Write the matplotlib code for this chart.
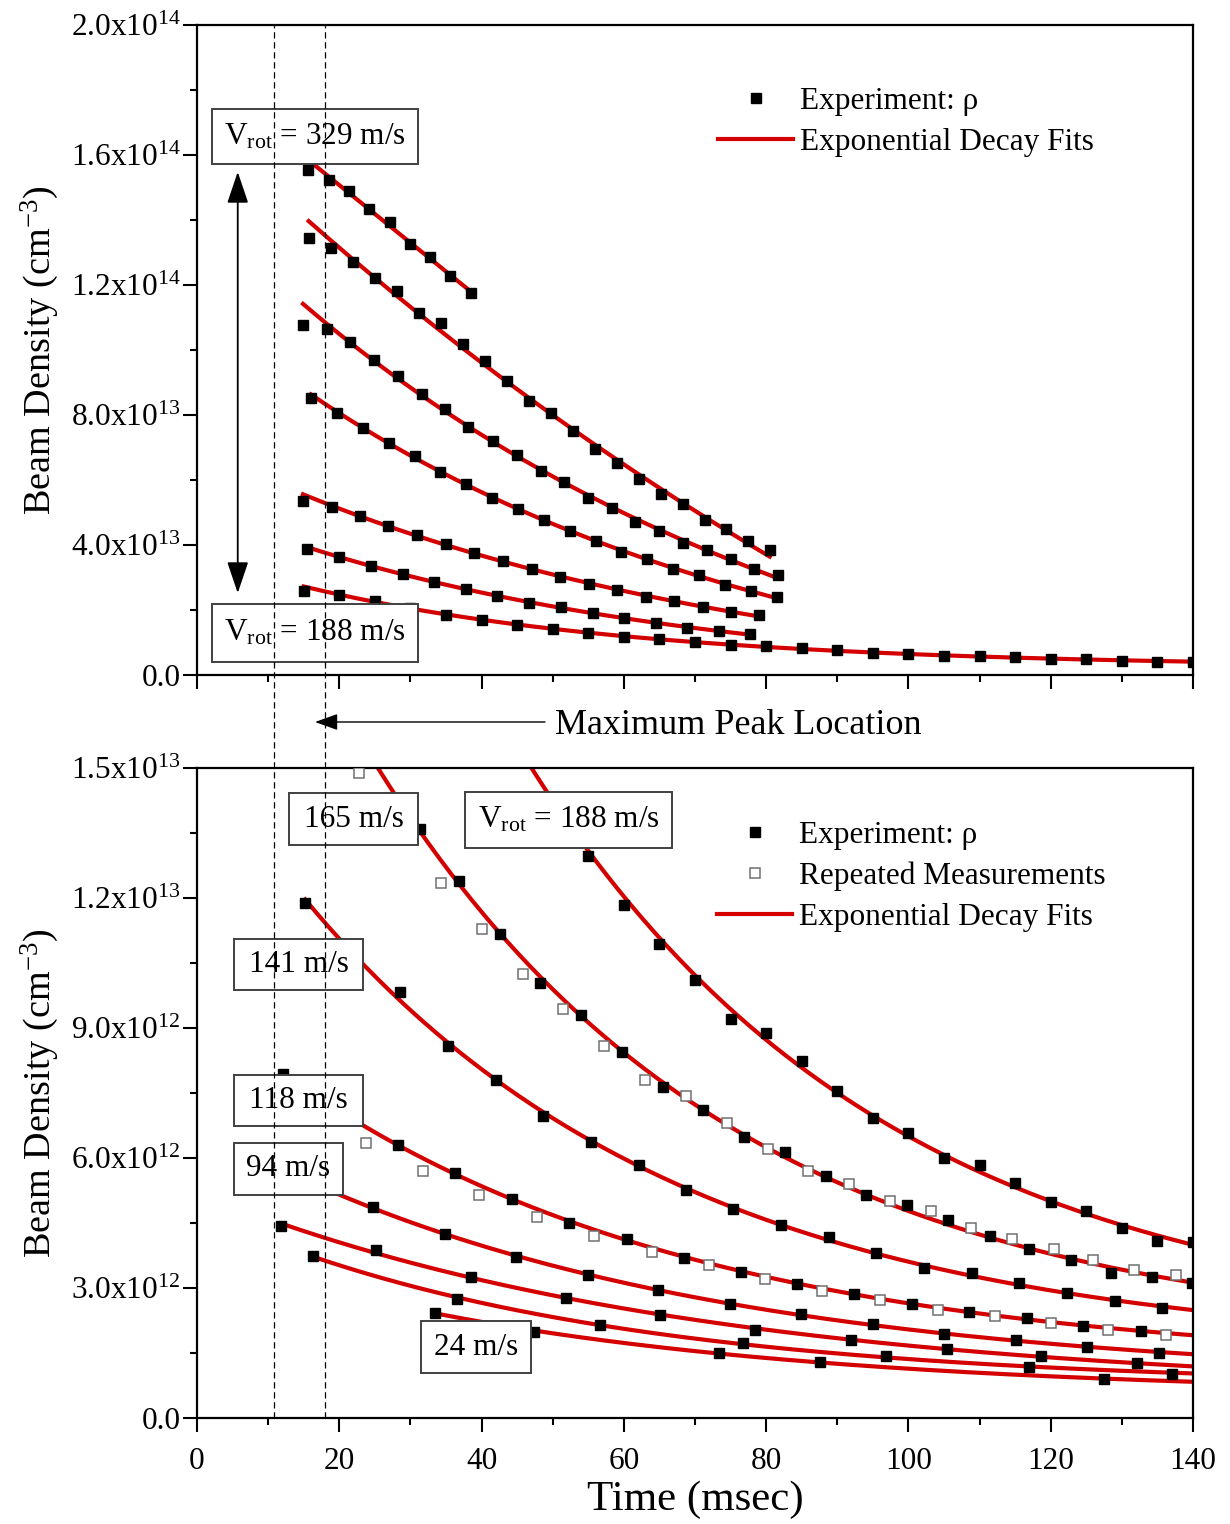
import numpy as np
import matplotlib
matplotlib.use("Agg")
import matplotlib.pyplot as plt
from matplotlib.lines import Line2D
from matplotlib.patches import Rectangle, ArrowStyle, FancyArrowPatch
from matplotlib.ticker import MultipleLocator, FuncFormatter
import matplotlib.transforms as mtransforms

plt.rcParams['font.family'] = ['Liberation Serif', 'DejaVu Serif']
plt.rcParams['mathtext.fontset'] = 'custom'
plt.rcParams['mathtext.rm'] = 'Liberation Serif'
plt.rcParams['mathtext.it'] = 'Liberation Serif:italic'
plt.rcParams['mathtext.bf'] = 'Liberation Serif:bold'

UNIT = 1e12  # densities below are in units of 1e12 cm^-3

# ---------------- upper panel: fast rotor speeds (msec, 1e12 cm^-3) ----------------
t_329 = [15.6, 18.5, 21.3, 24.2, 27.1, 29.9, 32.8, 35.6, 38.5]
n_329 = [155.4, 152.3, 148.9, 143.4, 139.4, 132.6, 128.6, 122.8, 117.5]

t_306 = [15.7, 18.8, 21.9, 25.0, 28.1, 31.2, 34.3, 37.4, 40.5, 43.6, 46.7,
         49.8, 52.9, 56.0, 59.0, 62.1, 65.2, 68.3, 71.4, 74.4, 77.5, 80.5]
n_306 = [134.5, 131.4, 127.1, 122.2, 118.2, 111.4, 108.3, 101.8, 96.6, 90.5, 84.3,
         80.6, 75.1, 69.5, 65.2, 60.3, 55.7, 52.6, 47.7, 44.9, 41.2, 38.5]

t_282 = [14.9, 18.3, 21.5, 24.9, 28.3, 31.6, 34.9, 38.1, 41.6, 45.0, 48.4,
         51.6, 55.0, 58.4, 61.6, 65.0, 68.3, 71.7, 75.1, 78.3, 81.7]
n_282 = [107.7, 106.5, 102.5, 96.9, 92.0, 86.5, 81.8, 76.3, 72.0, 67.7, 62.8,
         59.4, 54.5, 51.4, 47.1, 44.3, 40.6, 38.5, 35.7, 32.6, 30.8]

t_259 = [16.0, 19.7, 23.3, 27.0, 30.6, 34.2, 37.8, 41.5, 45.1, 48.8, 52.4,
         56.1, 59.6, 63.3, 66.9, 70.6, 74.2, 77.9, 81.5]
n_259 = [85.2, 80.6, 76.0, 71.4, 67.4, 62.5, 58.8, 54.5, 51.1, 47.7, 44.3,
         41.2, 37.8, 35.7, 32.6, 30.8, 27.7, 25.8, 24.0]

t_235 = [14.9, 19.0, 22.9, 26.8, 30.9, 35.0, 38.9, 43.0, 47.1, 51.0, 55.1,
         59.0, 63.1, 67.1, 71.1, 75.1, 79.0]
n_235 = [53.5, 51.7, 48.9, 45.8, 43.1, 40.3, 37.5, 35.1, 32.6, 30.2, 28.0,
         26.2, 24.0, 22.8, 20.9, 19.4, 18.5]

t_212 = [15.5, 20.0, 24.4, 28.9, 33.3, 37.8, 42.2, 46.7, 51.1, 55.6, 60.0,
         64.5, 68.9, 73.4, 77.8]
n_212 = [38.8, 36.3, 33.5, 31.1, 28.6, 26.5, 24.3, 22.2, 20.9, 19.1, 17.5,
         16.0, 14.5, 13.5, 12.6]

# 188 m/s appears in both panels
t_188 = [15, 20, 25, 30, 35, 40, 45, 50, 55, 60, 65, 70, 75, 80, 85, 90,
         95, 100, 105, 110, 115, 120, 125, 130, 135, 140]
n_188 = [25.8, 24.6, 22.8, 20.6, 18.5, 16.9, 15.4, 14.2, 12.97, 11.84, 10.94,
         10.11, 9.21, 8.89, 8.24, 7.55, 6.92, 6.58, 6.00, 5.84, 5.42, 4.98,
         4.78, 4.38, 4.08, 4.06]

# ---------------- lower panel: slow rotor speeds ----------------
t_165 = [31.3, 36.8, 42.6, 48.2, 54.0, 59.7, 65.5, 71.1, 76.9, 82.6, 88.4,
         94.1, 99.8, 105.6, 111.4, 117.0, 122.8, 128.5, 134.3, 139.9]
n_165 = [13.59, 12.39, 11.17, 10.04, 9.30, 8.45, 7.64, 7.11, 6.49, 6.14, 5.58,
         5.14, 4.92, 4.57, 4.20, 3.90, 3.65, 3.35, 3.25, 3.12]
t_165_rep = [22.8, 34.3, 40.1, 45.8, 51.4, 57.2, 63.0, 68.7, 74.5, 80.3, 85.9,
             91.7, 97.4, 103.2, 108.8, 114.6, 120.4, 126.0, 131.7, 137.6]
n_165_rep = [14.89, 12.35, 11.29, 10.25, 9.44, 8.58, 7.80, 7.43, 6.80, 6.21, 5.70,
             5.40, 5.01, 4.78, 4.39, 4.12, 3.90, 3.65, 3.42, 3.30]

t_141 = [15.2, 28.6, 35.3, 42.0, 48.7, 55.4, 62.1, 68.7, 75.4, 82.1, 88.8,
         95.5, 102.2, 108.9, 115.6, 122.3, 129.0, 135.7]
n_141 = [11.89, 9.84, 8.59, 7.80, 6.98, 6.37, 5.85, 5.27, 4.82, 4.46, 4.17,
         3.80, 3.46, 3.34, 3.11, 2.88, 2.69, 2.55]

t_118 = [12.1, 28.2, 36.3, 44.3, 52.3, 60.4, 68.5, 76.5, 84.4, 92.4, 100.5,
         108.5, 116.6, 124.6, 132.7]
n_118 = [7.94, 6.31, 5.66, 5.06, 4.51, 4.12, 3.69, 3.38, 3.09, 2.87, 2.64,
         2.45, 2.30, 2.12, 2.00]
t_118_rep = [23.7, 31.7, 39.7, 47.8, 55.8, 63.9, 71.9, 79.9, 87.9, 96.0, 104.1,
             112.1, 120.1, 128.1, 136.2]
n_118_rep = [6.34, 5.71, 5.15, 4.65, 4.20, 3.84, 3.52, 3.21, 2.93, 2.72, 2.50,
             2.36, 2.19, 2.04, 1.92]

t_94 = [24.7, 34.8, 44.9, 54.9, 64.8, 74.9, 84.9, 95.0, 105.0, 115.1, 125.1, 135.2]
n_94 = [4.86, 4.25, 3.72, 3.29, 2.95, 2.63, 2.41, 2.17, 1.94, 1.80, 1.65, 1.49]

t_71 = [11.8, 25.1, 38.5, 51.8, 65.1, 78.5, 91.9, 105.4, 118.6, 132.1]
n_71 = [4.44, 3.88, 3.26, 2.76, 2.38, 2.03, 1.79, 1.59, 1.43, 1.28]

t_47 = [16.3, 36.5, 56.6, 76.7, 96.8, 116.9, 137.1]
n_47 = [3.74, 2.75, 2.14, 1.72, 1.44, 1.18, 1.02]

t_24 = [33.5, 47.4, 73.4, 87.6, 127.5]
n_24 = [2.43, 1.99, 1.49, 1.30, 0.90]

# time range over which each lower-panel fit is drawn
lower_fit_start = {"188": 15, "165": 20, "141": 15.2, "118": 12.1,
                   "94": 15, "71": 11.8, "47": 16.3, "24": 33.5}
T_END = 140

upper_series = [(t_329, n_329), (t_306, n_306), (t_282, n_282), (t_259, n_259),
                (t_235, n_235), (t_212, n_212), (t_188, n_188)]
lower_series = {"188": (t_188, n_188), "165": (t_165, n_165), "141": (t_141, n_141),
                "118": (t_118, n_118), "94": (t_94, n_94), "71": (t_71, n_71),
                "47": (t_47, n_47), "24": (t_24, n_24)}
repeated = [(t_165_rep, n_165_rep), (t_118_rep, n_118_rep)]


def exp_decay_fit(t, n):
    """Least-squares fit of n = y0 + A*exp(-t/tau) (scan over tau)."""
    t = np.asarray(t, float)
    n = np.asarray(n, float)
    best = None
    for tau in np.geomspace(3, 5000, 800):
        X = np.column_stack([np.ones_like(t), np.exp(-t / tau)])
        coef, *_ = np.linalg.lstsq(X, n, rcond=None)
        r = np.sum((X @ coef - n) ** 2)
        if best is None or r < best[0]:
            best = (r, tau, coef)
    _, tau, (y0, A) = best
    return lambda tt: y0 + A * np.exp(-np.asarray(tt) / tau)


RED = '#d40000'
W, H = 1230, 1524
fig = plt.figure(figsize=(W / 100, H / 100), dpi=100)
ax1 = fig.add_axes([197 / W, 1 - 675 / H, 996 / W, 650 / H])
ax2 = fig.add_axes([197 / W, 1 - 1418 / H, 996 / W, 650 / H])


def sci_fmt(v, pos):
    if abs(v) < 1e-3:
        return '0.0'
    e = int(np.floor(np.log10(abs(v)) + 1e-9))
    m = v / 10 ** e
    return r'$\mathregular{%.1fx10^{%d}}$' % (m, e)


for ax in (ax1, ax2):
    ax.set_xlim(0, 140)
    ax.xaxis.set_major_locator(MultipleLocator(20))
    ax.xaxis.set_minor_locator(MultipleLocator(10))
    ax.yaxis.set_major_formatter(FuncFormatter(sci_fmt))
    ax.tick_params(which='both', direction='out', top=False, right=False,
                   width=1.5, labelsize=22.5)
    ax.tick_params(which='major', length=10)
    ax.tick_params(which='minor', length=5)
    ax.tick_params(axis='y', pad=2)
    for sp in ax.spines.values():
        sp.set_linewidth(1.6)
    ax.set_ylabel(r'Beam Density (cm$^{\mathregular{-3}}$)', fontsize=27.5, labelpad=7)

ax1.set_ylim(0, 2.0e14)
ax1.yaxis.set_major_locator(MultipleLocator(4e13))
ax1.yaxis.set_minor_locator(MultipleLocator(2e13))
ax1.tick_params(axis='x', labelbottom=False)

ax2.set_ylim(0, 1.5e13)
ax2.yaxis.set_major_locator(MultipleLocator(3e12))
ax2.yaxis.set_minor_locator(MultipleLocator(1.5e12))
ax2.tick_params(axis='x', pad=11)
ax2.set_xlabel('Time (msec)', fontsize=31, labelpad=3)

MS = 7.5
# upper panel: fits skip the first (pre-peak) sample
for t, n in upper_series:
    f = exp_decay_fit(t[1:], n[1:])
    tt = np.linspace(t[0], t[-1], 200)
    ax1.plot(tt, f(tt) * UNIT, color=RED, lw=3, zorder=2)
    ax1.plot(t, np.asarray(n) * UNIT, 's', color='black', ms=MS, zorder=3)

# lower panel
for key, (t, n) in lower_series.items():
    f = exp_decay_fit(t, n)
    tt = np.linspace(lower_fit_start[key], T_END, 300)
    ax2.plot(tt, f(tt) * UNIT, color=RED, lw=3, zorder=2)
    ax2.plot(t, np.asarray(n) * UNIT, 's', color='black', ms=MS, zorder=3)
for t, n in repeated:
    ax2.plot(t, np.asarray(n) * UNIT, 's', mfc='white', mec='#707070', mew=1.1,
             ms=7, zorder=3)


def label_box(ax, x0, y0, x1, y1, text, fs=22.5):
    ax.add_patch(Rectangle((x0, y0), x1 - x0, y1 - y0, transform=ax.transAxes,
                           fc='white', ec='#404040', lw=1.4, zorder=6))
    ax.text((x0 + x1) / 2, (y0 + y1) / 2, text, transform=ax.transAxes,
            ha='center', va='center', fontsize=fs, zorder=7)


VROT = r'V$_{\mathregular{rot}}$'
label_box(ax1, 0.0151, 0.7862, 0.2219, 0.8708, VROT + ' = 329 m/s')
label_box(ax1, 0.0151, 0.0200, 0.2219, 0.1092, VROT + ' = 188 m/s')
label_box(ax2, 0.0924, 0.8815, 0.2219, 0.9615, '165 m/s')
label_box(ax2, 0.2691, 0.8769, 0.4769, 0.9631, VROT + ' = 188 m/s')
label_box(ax2, 0.0371, 0.6585, 0.1667, 0.7369, '141 m/s')
label_box(ax2, 0.0371, 0.4492, 0.1667, 0.5277, '118 m/s')
label_box(ax2, 0.0371, 0.3431, 0.1466, 0.4231, '94 m/s')
label_box(ax2, 0.2249, 0.0692, 0.3353, 0.1492, '24 m/s')

# double-headed arrow spanning the velocity range
ax1.annotate('', xy=(0.0409, 0.774), xytext=(0.0409, 0.126),
             xycoords='axes fraction',
             arrowprops=dict(arrowstyle=ArrowStyle('<|-|>', head_length=0.65, head_width=0.22),
                             mutation_scale=30, color='black', lw=1.3, shrinkA=0, shrinkB=0))

# legends
sq = Line2D([], [], ls='none', marker='s', color='black', ms=MS)
sq_open = Line2D([], [], ls='none', marker='s', mfc='white', mec='#707070', mew=1.1, ms=7)
fitline = Line2D([], [], color=RED, lw=3)
leg_kw = dict(frameon=False, fontsize=22.5, handlelength=2.4, handletextpad=0.22,
              labelspacing=0.37, borderpad=0, borderaxespad=0, loc='upper left',
              bbox_transform=fig.transFigure)
ax1.legend([sq, fitline], ['Experiment: \u03c1', 'Exponential Decay Fits'],
           bbox_to_anchor=(718 / W, 1 - 87 / H), **leg_kw)
ax2.legend([sq, sq_open, fitline],
           ['Experiment: \u03c1', 'Repeated Measurements', 'Exponential Decay Fits'],
           bbox_to_anchor=(717 / W, 1 - 821 / H), **leg_kw)

# dashed markers of the peak window, running through both panels
blend = mtransforms.blended_transform_factory(ax2.transData, fig.transFigure)
for tx in (10.8, 18.0):
    fig.add_artist(Line2D([tx, tx], [1 - 1418 / H, 1 - 25 / H], transform=blend,
                          color='black', lw=0.9, ls=(0, (5, 3)), zorder=1))

# annotation between the panels
yy = 1 - 722 / H
fig.add_artist(FancyArrowPatch(
    (545 / W, yy), (315 / W, yy), transform=fig.transFigure,
    arrowstyle=ArrowStyle('-|>', head_length=0.7, head_width=0.25),
    mutation_scale=20, color='black', lw=1.0, shrinkA=0, shrinkB=0))
fig.text(555 / W, 1 - 725 / H, 'Maximum Peak Location', fontsize=26,
         ha='left', va='center')

fig.savefig('out.png', dpi=100, facecolor='white')
